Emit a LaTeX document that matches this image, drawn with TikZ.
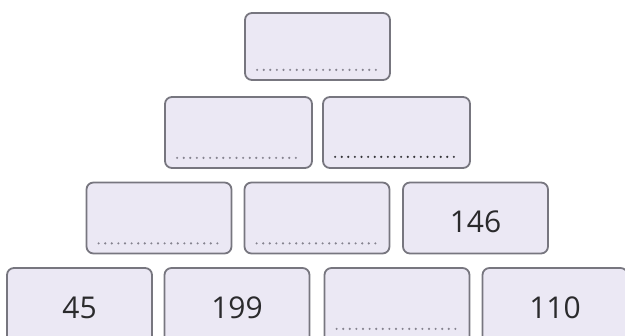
\documentclass[tikz,border=0pt]{standalone}
\usepackage{fontspec}
\setmainfont{Open Sans}
\definecolor{boxfill}{HTML}{EBE8F4}
\definecolor{boxline}{HTML}{77767F}
\definecolor{numtext}{HTML}{2A2A2C}
\definecolor{dotgray}{HTML}{85838F}
\definecolor{dotdark}{HTML}{333337}

\begin{document}
\begin{tikzpicture}[x=1pt,y=-1pt,
		brick/.style={draw=boxline,fill=boxfill,line width=1.8pt,rounded corners=7pt,
			minimum width=145pt,minimum height=70pt,inner sep=0pt,
			text=numtext,font=\fontsize{30}{34}\selectfont},
		dotline/.style={line width=2.4pt,line cap=round,dash pattern=on 0pt off 6.6pt,dotgray}]
			\useasboundingbox (0,0) rectangle (625,336);
			\clip (0,0) rectangle (625,336);
			% top row
			\node[brick,minimum height=67pt] (top) at (317.5,46.5) {};
			% second row
			\node[brick,minimum width=147pt,minimum height=71pt] (midL) at (238.5,132.5) {};
			\node[brick,minimum width=147pt,minimum height=71pt] (midR) at (396.5,132.5) {};
			% third row
			\node[brick,minimum height=71pt] (lowL) at (159,218) {};
			\node[brick,minimum height=71pt] (lowM) at (317,218) {};
			\node[brick,minimum height=71pt,text height=29pt,text depth=0pt] (lowR) at (475.5,218) {146};
			% bottom row, cut off by the page edge
			\node[brick,minimum height=80pt] (baseA) at (79.5,308) {45};
			\node[brick,minimum height=80pt] (baseB) at (237,308) {199};
			\node[brick,minimum height=80pt] (baseC) at (397,308) {};
			\node[brick,minimum height=80pt] (baseD) at (555,308) {110};
			% answer lines
			\foreach \b in {top,midL,lowL,lowM}
				\draw[dotline] ([xshift=13pt,yshift=11pt]\b.south west) -- ([xshift=-13pt,yshift=11pt]\b.south east);
			\draw[dotline,dotdark] ([xshift=13pt,yshift=12pt]midR.south west) -- ([xshift=-13pt,yshift=12pt]midR.south east);
			\draw[dotline] ([xshift=13pt,yshift=20pt]baseC.south west) -- ([xshift=-13pt,yshift=20pt]baseC.south east);
		\end{tikzpicture}
\end{document}
